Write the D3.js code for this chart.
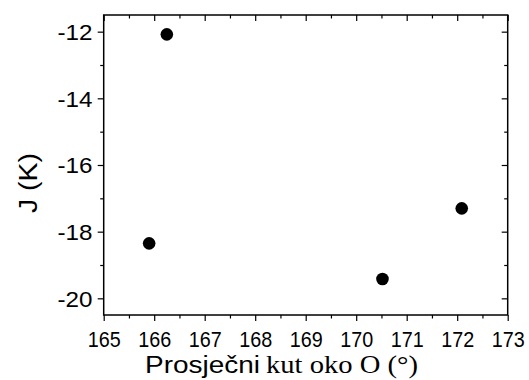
<!DOCTYPE html>
<html>
<head>
<meta charset="utf-8">
<script src="https://cdn.jsdelivr.net/npm/d3@7"></script>
<style>
  html, body { margin: 0; padding: 0; background: #fff; }
  svg { display: block; }
</style>
</head>
<body>
<svg id="chart" width="529" height="380"></svg>
<script>
// Data
const angleX = [166.25, 165.90, 170.52, 172.09];
const exchangeJ = [-12.08, -18.35, -19.42, -17.30];

const xMajorTicks = [165, 166, 167, 168, 169, 170, 171, 172, 173];
const xMinorTicks = [165.5, 166.5, 167.5, 168.5, 169.5, 170.5, 171.5, 172.5];
const yMajorTicks = [-20, -18, -16, -14, -12];
const yMinorTicks = [-19, -17, -15, -13];

const xTitleSans = "Prosječni";
const xTitleSerif = "kut oko O (°)";
const yTitle = "J (K)";

const svg = d3.select("#chart");
const plotL = 103.7, plotR = 507.7, plotT = 15, plotB = 315;

const x = d3.scaleLinear().domain([165, 173]).range([plotL, plotR]);
const y = d3.scaleLinear().domain([-20.5, -11.5]).range([plotB, plotT]);

const fmt = d => String(d);
const SANS = "Liberation Sans, Arial, sans-serif";
const SERIF = "Liberation Serif, Times New Roman, DejaVu Serif, serif";

function style(g) {
  g.select(".domain").remove();
  g.selectAll(".tick line").attr("stroke", "#000").attr("stroke-width", 1.2);
}

// bottom axis: major with labels
const gb = svg.append("g").attr("transform", `translate(0,${plotB})`)
  .call(d3.axisBottom(x).tickValues(xMajorTicks).tickSize(6).tickFormat(fmt));
style(gb);
gb.attr("font-family", SANS).attr("font-size", 22);
gb.selectAll(".tick text")
  .attr("y", 31.7).attr("dy", null)
  .attr("fill", "#000")
  .attr("textLength", 33).attr("lengthAdjust", "spacingAndGlyphs");
style(svg.append("g").attr("transform", `translate(0,${plotB})`)
  .call(d3.axisBottom(x).tickValues(xMinorTicks).tickSize(3.5).tickFormat("")));

// top axis: inward ticks
style(svg.append("g").attr("transform", `translate(0,${plotT})`)
  .call(d3.axisTop(x).tickValues(xMajorTicks).tickSize(-6).tickFormat("")));
style(svg.append("g").attr("transform", `translate(0,${plotT})`)
  .call(d3.axisTop(x).tickValues(xMinorTicks).tickSize(-3.5).tickFormat("")));

// left axis
const gl = svg.append("g").attr("transform", `translate(${plotL},0)`)
  .call(d3.axisLeft(y).tickValues(yMajorTicks).tickSize(6).tickFormat(fmt));
style(gl);
gl.attr("font-family", SANS).attr("font-size", 22);
gl.selectAll(".tick text")
  .attr("x", -11.3).attr("dy", "0.36em")
  .attr("fill", "#000")
  .attr("textLength", 35).attr("lengthAdjust", "spacingAndGlyphs");
style(svg.append("g").attr("transform", `translate(${plotL},0)`)
  .call(d3.axisLeft(y).tickValues(yMinorTicks).tickSize(3.5).tickFormat("")));

// right axis: inward ticks
style(svg.append("g").attr("transform", `translate(${plotR},0)`)
  .call(d3.axisRight(y).tickValues(yMajorTicks).tickSize(-6).tickFormat("")));
style(svg.append("g").attr("transform", `translate(${plotR},0)`)
  .call(d3.axisRight(y).tickValues(yMinorTicks).tickSize(-3.5).tickFormat("")));

// frame
svg.append("rect")
  .attr("x", plotL).attr("y", plotT)
  .attr("width", plotR - plotL).attr("height", plotB - plotT)
  .attr("fill", "none").attr("stroke", "#000").attr("stroke-width", 1.5);

// points
svg.append("g").selectAll("circle")
  .data(angleX.map((v, i) => [v, exchangeJ[i]]))
  .join("circle")
  .attr("cx", d => x(d[0]))
  .attr("cy", d => y(d[1]))
  .attr("r", 6.3)
  .attr("fill", "#000");

// x title
svg.append("text")
  .attr("x", 145).attr("y", 373.3)
  .attr("font-family", SANS)
  .attr("font-size", 23).attr("fill", "#000")
  .attr("textLength", 115).attr("lengthAdjust", "spacingAndGlyphs")
  .text(xTitleSans);
svg.append("text")
  .attr("x", 266).attr("y", 373.3)
  .attr("font-family", SERIF)
  .attr("font-size", 25).attr("fill", "#000")
  .attr("textLength", 152).attr("lengthAdjust", "spacingAndGlyphs")
  .text(xTitleSerif);

// y title
svg.append("text")
  .attr("transform", "translate(37,183) rotate(-90)")
  .attr("text-anchor", "middle")
  .attr("font-family", SANS)
  .attr("font-size", 25).attr("fill", "#000")
  .attr("textLength", 60).attr("lengthAdjust", "spacingAndGlyphs")
  .text(yTitle);
</script>
</body>
</html>
